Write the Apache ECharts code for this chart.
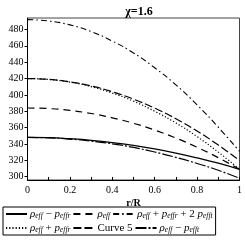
<!DOCTYPE html>
<html><head><meta charset="utf-8">
<script src="https://cdn.jsdelivr.net/npm/echarts@6/dist/echarts.min.js"></script>
<style>html,body{margin:0;padding:0;background:#fff}#c{width:245px;height:245px}</style>
</head><body><div id="c"></div>
<script>
const rVals = [0, 0.1, 0.2, 0.3, 0.4, 0.5, 0.6, 0.7, 0.8, 0.9, 1];
const rhoMinusPr = [348, 347.7, 346.4, 344.5, 341.8, 338.3, 334, 328.9, 323, 316.5, 309];
const rho = [384, 383.3, 381, 377.3, 372, 365.3, 357, 347.3, 336, 323.3, 309];
const rhoPrPlus2Pt = [492, 490.3, 485.6, 477.5, 465.8, 451.3, 433.2, 412.3, 387.8, 360.5, 331];
const rhoPlusPr = [420, 418.9, 415.6, 410.1, 402.2, 392.3, 380, 365.7, 349, 330.1, 309];
const curve5 = [420, 419, 416, 411, 403.8, 394.8, 383.8, 370.9, 355.8, 338.7, 320];
const rhoMinusPt = [348, 347.6, 346, 343.6, 340.2, 335.8, 330.2, 323.7, 316.2, 307.9, 298];
const yTicks = [300, 320, 340, 360, 380, 400, 420, 440, 460, 480];
const seriesNames = ['s1', 's2', 's3', 's4', 's5', 's6'];
const legendTexts = {
  s1: '{i|ρ}{s|eff} − {i|p}{s|effr}',
  s2: '{i|ρ}{s|eff}',
  s3: '{i|ρ}{s|eff} + {i|p}{s|effr} + 2 {i|p}{s|efft}',
  s4: '{i|ρ}{s|eff} + {i|p}{s|effr}',
  s5: 'Curve 5',
  s6: '{i|ρ}{s|eff} − {i|p}{s|efft}'
};
const seriesData = [rhoMinusPr, rho, rhoPrPlus2Pt, rhoPlusPr, curve5, rhoMinusPt];
const dashes = ['solid', [7, 5], [6, 3, 1.5, 3], [1.2, 2], [8, 3], [11, 2, 2, 2]];
const widths = [1.3, 1.2, 1.1, 1.2, 1.2, 1.2];

const chart = echarts.init(document.getElementById('c'));
const serif = 'Liberation Serif';
chart.setOption({
  animation: false,
  title: { text: 'χ=1.6', left: 134, top: 1, textAlign: 'center',
    textStyle: { fontFamily: serif, fontSize: 12, fontWeight: 'bold', color: '#000' } },
  grid: { left: 27.5, right: 4.5, top: 18, bottom: 65, show: true, borderColor: '#444', borderWidth: 1 },
  xAxis: {
    type: 'value', min: 0, max: 1, interval: 0.1,
    name: 'r/R', nameLocation: 'middle', nameGap: 18, nameMoveOverlap: false,
    nameTextStyle: { fontFamily: serif, fontSize: 10, fontWeight: 'bold', color: '#000' },
    axisLine: { lineStyle: { color: '#000', width: 1 } },
    axisTick: { inside: true, length: 3, lineStyle: { color: '#000' } },
    splitLine: { show: false },
    axisLabel: { fontFamily: serif, fontSize: 10, color: '#000', margin: 5,
      formatter: v => (Math.round(v * 10) % 2 === 0 ? String(+v.toFixed(1)) : '') }
  },
  yAxis: {
    type: 'value', min: 296, max: 494,
    axisLine: { show: true, lineStyle: { color: '#000', width: 1 } },
    axisTick: { show: true, length: 3, customValues: yTicks, lineStyle: { color: '#000' } },
    splitLine: { show: false },
    axisLabel: { fontFamily: serif, fontSize: 10, color: '#000', margin: 4, customValues: yTicks }
  },
  legend: {
    left: 3, top: 207, width: 238, padding: [1, 3, 1, 2],
    borderColor: '#000', borderWidth: 1,
    itemWidth: 21, itemHeight: 8, itemGap: 2,
    itemStyle: { opacity: 0 },
    data: seriesNames,
    formatter: n => legendTexts[n],
    textStyle: { fontFamily: serif, fontSize: 11, lineHeight: 12, color: '#000', padding: [0, 0, 0, -2],
      rich: { i: { fontFamily: serif, fontSize: 11, lineHeight: 12, fontStyle: 'italic' },
              s: { fontFamily: serif, fontSize: 7.5, lineHeight: 8, fontStyle: 'italic', verticalAlign: 'bottom' } } }
  },
  series: seriesNames.map((n, k) => ({
    name: n, type: 'line', smooth: true, symbol: 'none', showSymbol: false,
    data: rVals.map((r, j) => [r, seriesData[k][j]]),
    lineStyle: { color: '#000', width: widths[k], type: dashes[k] },
    itemStyle: { color: '#000' }
  }))
});
</script></body></html>
